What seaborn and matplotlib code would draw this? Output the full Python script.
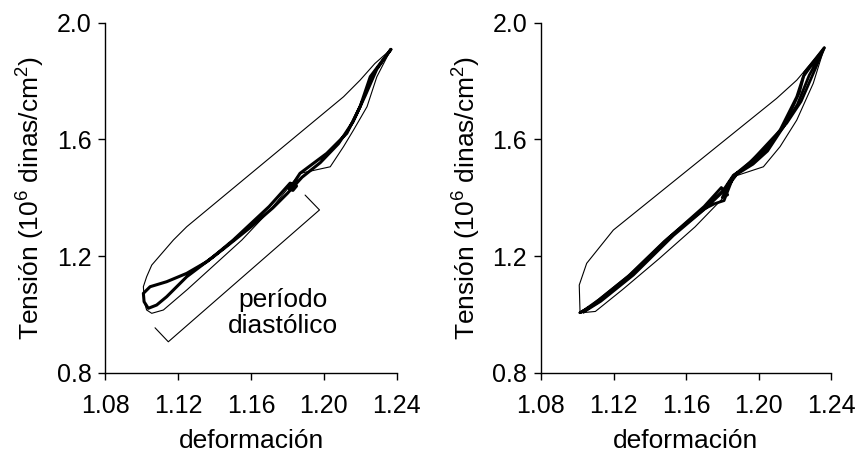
import matplotlib
matplotlib.use("Agg")
import matplotlib.pyplot as plt
import seaborn as sns
import pandas as pd

# ---- data ----
x_ticks = [1.08, 1.12, 1.16, 1.20, 1.24]
y_ticks = [0.8, 1.2, 1.6, 2.0]
x_tick_labels = ["1.08", "1.12", "1.16", "1.20", "1.24"]
y_tick_labels = ["0.8", "1.2", "1.6", "2.0"]

left_thin_x = [1.2368, 1.2280, 1.2199, 1.2108, 1.1247, 1.1174, 1.1055, 1.1027, 1.1009,
               1.1015, 1.1027, 1.1055, 1.1119, 1.1250, 1.1400, 1.1550, 1.1705, 1.1870,
               1.2035, 1.2108, 1.2163, 1.2237, 1.2291, 1.2368]
left_thin_y = [1.9085, 1.8600, 1.8030, 1.7460, 1.3004, 1.2550, 1.1690, 1.1290, 1.0950,
               1.0400, 1.0150, 1.0036, 1.0150, 1.0850, 1.1700, 1.2550, 1.3577, 1.4835,
               1.5060, 1.5750, 1.6320, 1.7120, 1.8146, 1.9085]

left_thick_x = [1.2368, 1.2255, 1.2199, 1.2126, 1.2016, 1.1943, 1.1869, 1.1833, 1.1800,
                1.1830, 1.1850, 1.1815, 1.1700, 1.1503, 1.1393, 1.1247, 1.1137, 1.1082,
                1.1036, 1.1013, 1.1009, 1.1046, 1.1137, 1.1247, 1.1357, 1.1450, 1.1600,
                1.1720, 1.1800, 1.1880, 1.1980, 1.2080, 1.2160, 1.2227, 1.2290, 1.2368]
left_thick_y = [1.9085, 1.8150, 1.7120, 1.6206, 1.5520, 1.5180, 1.4835, 1.4490, 1.4350,
                1.4250, 1.4400, 1.4500, 1.3700, 1.2550, 1.1977, 1.1290, 1.0605, 1.0320,
                1.0207, 1.0434, 1.0720, 1.0948, 1.1120, 1.1406, 1.1805, 1.2250, 1.3000,
                1.3650, 1.4150, 1.4700, 1.5200, 1.5850, 1.6600, 1.7500, 1.8400, 1.9085]

right_thin_x = [1.2363, 1.2211, 1.2100, 1.1199, 1.1052, 1.1011, 1.1015, 1.1015, 1.1100,
                1.1250, 1.1450, 1.1650, 1.1806, 1.1861, 1.2027, 1.2119, 1.2211, 1.2302, 1.2363]
right_thin_y = [1.9140, 1.8030, 1.7405, 1.2890, 1.1750, 1.1006, 1.0150, 1.0050, 1.0100,
                1.0850, 1.1900, 1.3000, 1.4000, 1.4720, 1.5060, 1.5750, 1.6660, 1.7920, 1.9140]

right_thick_a_x = [1.1015, 1.1107, 1.1291, 1.1512, 1.1696, 1.1806, 1.1861, 1.1953, 1.2027,
                   1.2119, 1.2211, 1.2247, 1.2363, 1.2280, 1.2215, 1.2135, 1.2045, 1.1950,
                   1.1870, 1.1835, 1.1800, 1.1830, 1.1795, 1.1700, 1.1500, 1.1300, 1.1120,
                   1.1040, 1.1015]
right_thick_a_y = [1.0057, 1.0380, 1.1290, 1.2660, 1.3580, 1.4260, 1.4770, 1.5120, 1.5520,
                   1.6320, 1.7460, 1.8150, 1.9140, 1.8200, 1.7200, 1.6400, 1.5750, 1.5200,
                   1.4800, 1.4500, 1.4000, 1.4100, 1.4350, 1.3700, 1.2600, 1.1400, 1.0500,
                   1.0150, 1.0057]

right_thick_b_x = [1.1035, 1.1130, 1.1310, 1.1530, 1.1710, 1.1820, 1.1880, 1.1970, 1.2050,
                   1.2140, 1.2225, 1.2255, 1.2363, 1.2305, 1.2235, 1.2155, 1.2050, 1.1960,
                   1.1860, 1.1810, 1.1760, 1.1680, 1.1480, 1.1280, 1.1100, 1.1035]
right_thick_b_y = [1.0080, 1.0450, 1.1350, 1.2700, 1.3650, 1.4300, 1.4800, 1.5150, 1.5600,
                   1.6450, 1.7600, 1.8300, 1.9140, 1.8300, 1.7300, 1.6550, 1.5850, 1.5250,
                   1.4700, 1.3900, 1.3800, 1.3550, 1.2500, 1.1300, 1.0400, 1.0080]

bracket_x = [1.1073, 1.1146, 1.1976, 1.1897]
bracket_y = [0.954, 0.906, 1.358, 1.409]

annotation_text = "período\ndiastólico"
x_label = "deformación"
y_label = "Tensión (10$^6$ dinas/cm$^2$)"

# ---- style ----
sns.set_theme(style="white")
plt.rcParams["font.family"] = ["Liberation Sans", "DejaVu Sans"]
plt.rcParams["mathtext.fontset"] = "custom"
plt.rcParams["mathtext.rm"] = "Liberation Sans"
plt.rcParams["mathtext.it"] = "Liberation Sans:italic"
plt.rcParams["mathtext.bf"] = "Liberation Sans:bold"
plt.rcParams["text.color"] = "black"

fig = plt.figure(figsize=(8.58, 4.59), dpi=100)
ax_l = fig.add_axes([105.3 / 858, 1 - 372.7 / 459, 291.4 / 858, 350 / 459])
ax_r = fig.add_axes([541 / 858, 1 - 372.7 / 459, 290 / 858, 350 / 459])


def draw(ax, x, y, lw):
    df = pd.DataFrame({"x": x, "y": y})
    sns.lineplot(data=df, x="x", y="y", sort=False, estimator=None, ax=ax,
                 color="black", lw=lw, solid_joinstyle="round", solid_capstyle="round")


draw(ax_l, left_thin_x, left_thin_y, 0.8)
draw(ax_l, left_thick_x, left_thick_y, 2.2)
draw(ax_l, bracket_x, bracket_y, 0.8)
ax_l.text(1.1776, 1.005, annotation_text, ha="center", va="center", fontsize=19,
          linespacing=1.12, color="black")

draw(ax_r, right_thin_x, right_thin_y, 0.8)
draw(ax_r, right_thick_a_x, right_thick_a_y, 2.0)
draw(ax_r, right_thick_b_x, right_thick_b_y, 2.0)

for ax in (ax_l, ax_r):
    ax.set_xlim(1.08, 1.24)
    ax.set_ylim(0.8, 2.0)
    ax.set_xticks(x_ticks)
    ax.set_xticklabels(x_tick_labels)
    ax.set_yticks(y_ticks)
    ax.set_yticklabels(y_tick_labels)
    for s in ("top", "right"):
        ax.spines[s].set_visible(False)
    for s in ("left", "bottom"):
        ax.spines[s].set_color("black")
        ax.spines[s].set_linewidth(1.0)
    ax.tick_params(axis="both", direction="out", length=5, width=1.0, color="black",
                   labelsize=18, labelcolor="black", bottom=True, left=True)
    ax.tick_params(axis="x", pad=10)
    ax.tick_params(axis="y", pad=5)
    ax.set_xlabel(x_label, fontsize=19, color="black", labelpad=8)
    ax.set_ylabel(y_label, fontsize=19, color="black", labelpad=7)
    ax.set_facecolor("white")
    ax.patch.set_alpha(0)

fig.savefig("out.png", dpi=100, facecolor="white")
